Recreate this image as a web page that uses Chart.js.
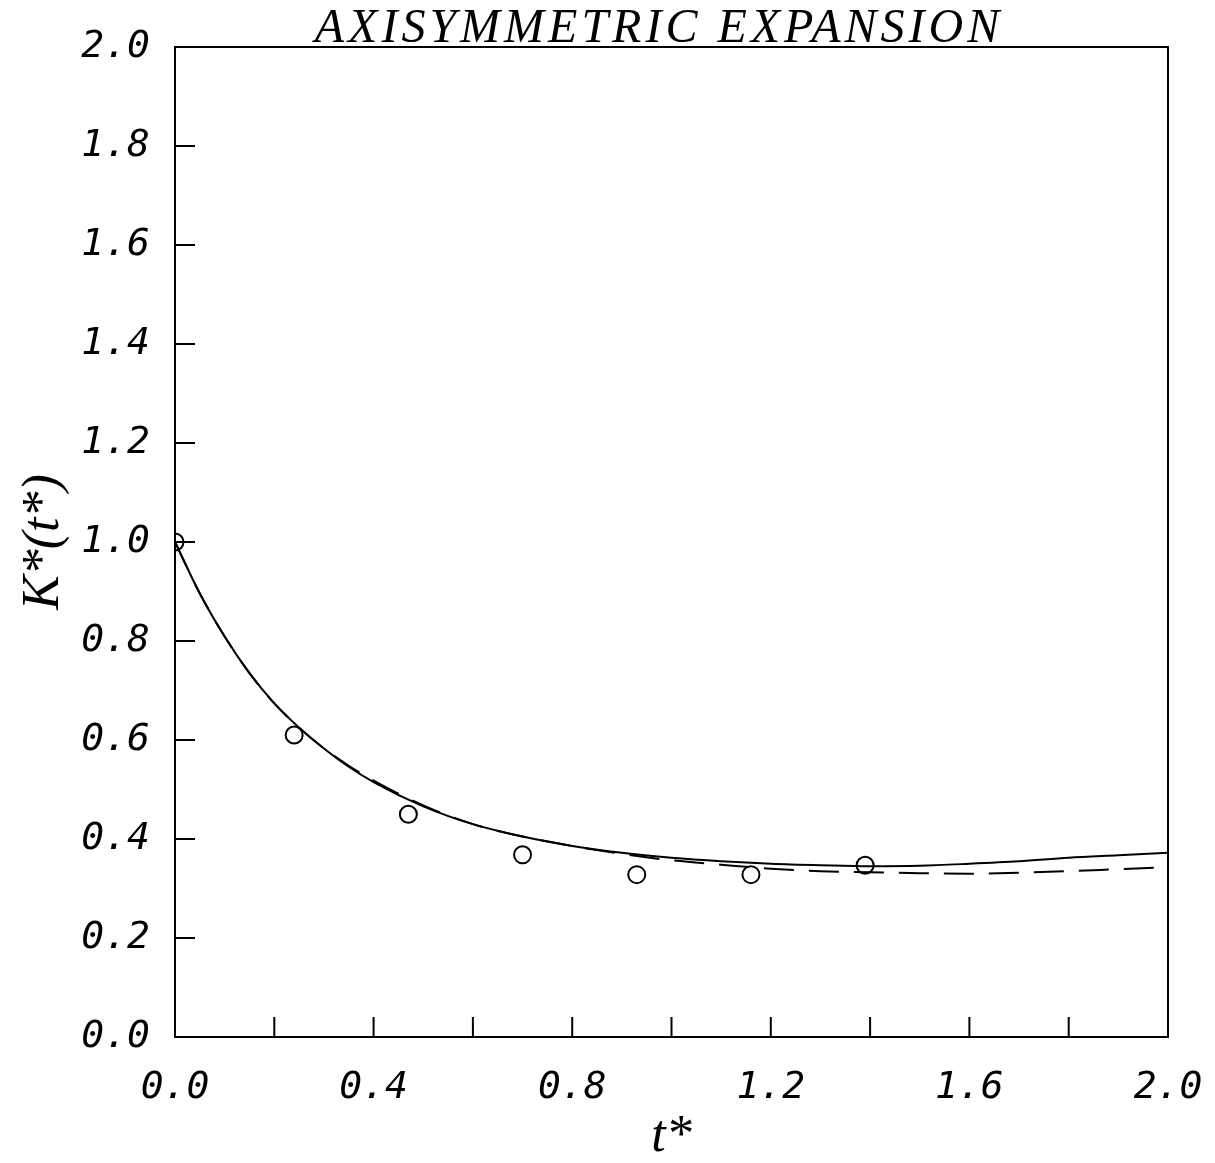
<!DOCTYPE html>
<html>
<head>
<meta charset="utf-8">
<script src="https://cdn.jsdelivr.net/npm/chart.js@4.4.1/dist/chart.umd.min.js"></script>
<style>
  body { margin: 0; background: #fff; }
</style>
</head>
<body>
<canvas id="k-chart" width="1215" height="1163"></canvas>
<script>
// measured points (circles)
const circleT = [0, 0.24, 0.47, 0.70, 0.93, 1.16, 1.39];
const circleK = [1.0, 0.61, 0.45, 0.368, 0.328, 0.328, 0.347];

// model curves
const curveT = [0, 0.05, 0.1, 0.15, 0.2, 0.25, 0.3, 0.35, 0.4, 0.5, 0.6, 0.7, 0.8, 0.9, 1.0, 1.1, 1.2, 1.3, 1.4, 1.5, 1.6, 1.7, 1.8, 1.9, 2.0];
const solidK = [1.0, 0.896, 0.809, 0.735, 0.674, 0.625, 0.583, 0.546, 0.515, 0.466, 0.43, 0.405, 0.386, 0.372, 0.362, 0.355, 0.35, 0.347, 0.345, 0.346, 0.35, 0.355, 0.362, 0.367, 0.372];
const dashedK = [1.0, 0.896, 0.809, 0.735, 0.674, 0.625, 0.583, 0.548, 0.518, 0.468, 0.43, 0.405, 0.386, 0.37, 0.357, 0.348, 0.34, 0.335, 0.333, 0.331, 0.33, 0.332, 0.335, 0.339, 0.343];

const xTickLabels = ["0.0", "0.4", "0.8", "1.2", "1.6", "2.0"];

const title = "AXISYMMETRIC EXPANSION";
const xTitle = "t*";
const yTitle = "K*(t*)";

const toPoints = (xs, ys) => xs.map((x, i) => ({ x: x, y: ys[i] }));

const tickFont = { family: "DejaVu Sans Mono", size: 38, style: "italic" };
const axisTitleFont = { family: "Liberation Serif", size: 52, style: "italic", lineHeight: 1 };

// box on all four sides, ticks pointing inward, title sitting on the top edge
const framePlugin = {
    id: "frame",
    afterDraw(chart) {
        const ctx = chart.ctx;
        const area = chart.chartArea;
        const xs = chart.scales.x;
        const ys = chart.scales.y;
        ctx.save();
        ctx.strokeStyle = "#000";
        ctx.lineWidth = 2;
        ctx.strokeRect(area.left, area.top, area.right - area.left, area.bottom - area.top);
        ctx.beginPath();
        xs.ticks.forEach(t => {
            if (t.value <= xs.min || t.value >= xs.max) return;
            const px = xs.getPixelForValue(t.value);
            ctx.moveTo(px, area.bottom);
            ctx.lineTo(px, area.bottom - 20);
        });
        ys.ticks.forEach(t => {
            if (t.value <= ys.min || t.value >= ys.max) return;
            const py = ys.getPixelForValue(t.value);
            ctx.moveTo(area.left, py);
            ctx.lineTo(area.left + 20, py);
        });
        ctx.stroke();
        ctx.fillStyle = "#000";
        ctx.font = "italic 48px 'Liberation Serif'";
        ctx.letterSpacing = "4px";
        ctx.textAlign = "center";
        ctx.textBaseline = "alphabetic";
        ctx.fillText(title, 659, area.top - 5);
        ctx.restore();
    }
};

const kChart = () => {
    const option = {
        type: "scatter",
        data: {
            datasets: [{
                label: "solid",
                data: toPoints(curveT, solidK),
                showLine: true,
                borderColor: "#000",
                borderWidth: 2,
                pointRadius: 0,
                cubicInterpolationMode: "monotone"
            }, {
                label: "dashed",
                data: toPoints(curveT, dashedK),
                showLine: true,
                borderColor: "#000",
                borderWidth: 2,
                borderDash: [30, 15],
                pointRadius: 0,
                cubicInterpolationMode: "monotone"
            }, {
                label: "data",
                data: toPoints(circleT, circleK),
                showLine: false,
                pointStyle: "circle",
                pointRadius: 8.5,
                pointBorderWidth: 2,
                pointBorderColor: "#000",
                pointBackgroundColor: "rgba(0,0,0,0)"
            }]
        },
        options: {
            responsive: false,
            animation: false,
            layout: { padding: { left: 0, top: 47, right: 47, bottom: 0 } },
            plugins: {
                legend: { display: false },
                tooltip: { enabled: false }
            },
            scales: {
                x: {
                    type: "linear",
                    min: 0,
                    max: 2,
                    grid: { display: false },
                    border: { display: false },
                    ticks: {
                        stepSize: 0.2,
                        autoSkip: false,
                        maxRotation: 0,
                        padding: 20,
                        color: "#000",
                        font: tickFont,
                        callback: (v) => {
                            const s = v.toFixed(1);
                            return xTickLabels.includes(s) ? s : "";
                        }
                    },
                    title: { display: true, text: xTitle, color: "#000", font: axisTitleFont, padding: { top: 0, bottom: 0 } },
                    afterFit: (scale) => {
                        scale.height = 126;
                        scale.paddingLeft = 0;
                        scale.paddingRight = 0;
                    }
                },
                y: {
                    type: "linear",
                    min: 0,
                    max: 2,
                    grid: { display: false },
                    border: { display: false },
                    ticks: {
                        stepSize: 0.2,
                        padding: 17,
                        color: "#000",
                        font: tickFont,
                        callback: (v) => v.toFixed(1)
                    },
                    title: { display: true, text: yTitle, color: "#000", font: axisTitleFont, padding: { top: 18, bottom: 0 } },
                    afterFit: (scale) => { scale.width = 175; }
                }
            }
        },
        plugins: [framePlugin]
    };
    const canvas = document.getElementById("k-chart");
    new Chart(canvas, option);
};

kChart();
</script>
</body>
</html>
